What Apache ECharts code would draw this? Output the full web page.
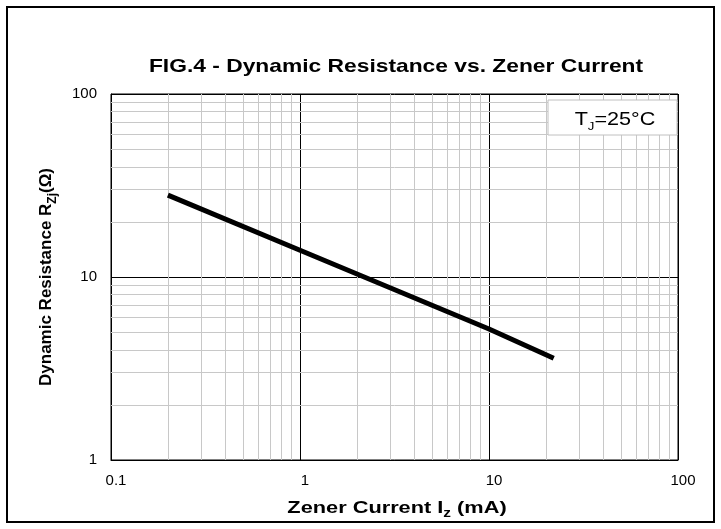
<!DOCTYPE html>
<html>
<head>
<meta charset="utf-8">
<script src="https://cdn.jsdelivr.net/npm/echarts@6/dist/echarts.min.js"></script>
<style>
  html, body { margin: 0; padding: 0; background: #fff; }
  #chart { width: 721px; height: 529px; }
</style>
</head>
<body>
<div id="chart"></div>
<script>
var current = [0.2, 1, 10, 22];          // Iz (mA)
var resistance = [28, 14, 5.2, 3.6];     // Rzj (ohm)
var xMinor = [0.2, 0.3, 0.4, 0.5, 0.6, 0.7, 0.8, 0.9, 2, 3, 4, 5, 6, 7, 8, 9, 20, 30, 40, 50, 60, 70, 80, 90];
var yMinor = [2, 3, 4, 5, 6, 7, 8, 9, 20, 30, 40, 50, 60, 70, 80, 90];

var myChart = echarts.init(document.getElementById('chart'));
var font = 'Liberation Sans, Arial, sans-serif';

// minor grid (2..9 of each decade) as mark lines
var gridLines = [];
xMinor.forEach(function (v) { gridLines.push({ xAxis: v }); });
yMinor.forEach(function (v) { gridLines.push({ yAxis: v }); });

var option = {
  backgroundColor: '#fff',
  animation: false,
  grid: {
    left: 111, right: 43, top: 94, bottom: 69,
    show: true, borderColor: '#000', borderWidth: 1, backgroundColor: '#fff'
  },
  xAxis: {
    type: 'log', logBase: 10, min: 0.1, max: 100,
    axisLine: { lineStyle: { color: '#000' } },
    axisTick: { show: false },
    axisLabel: {
      fontFamily: font, fontSize: 15, color: '#000', margin: 13, padding: [0, 0, 0, 10],
      formatter: function (v) { return String(+v.toPrecision(3)); }
    },
    splitLine: { show: true, lineStyle: { color: '#000', width: 1 } }
  },
  yAxis: {
    type: 'log', logBase: 10, min: 1, max: 100,
    name: 'Dynamic Resistance R{sub|Zj}(Ω)',
    nameLocation: 'middle', nameGap: 52,
    nameTextStyle: {
      fontFamily: font, fontSize: 17, fontWeight: 'bold', color: '#000',
      rich: { sub: { fontFamily: font, fontSize: 12, fontWeight: 'bold', color: '#000', verticalAlign: 'bottom', lineHeight: 26 } }
    },
    axisLine: { lineStyle: { color: '#000' } },
    axisTick: { show: false },
    axisLabel: {
      fontFamily: font, fontSize: 15, color: '#000', margin: 14,
      formatter: function (v) { return String(+v.toPrecision(3)); }
    },
    splitLine: { show: true, lineStyle: { color: '#000', width: 1 } }
  },
  series: [
    {
      type: 'line',
      data: [],
      z: 1,
      silent: true,
      markLine: {
        silent: true,
        symbol: ['none', 'none'],
        label: { show: false },
        lineStyle: { color: '#c8c8c8', width: 1, type: 'solid' },
        data: gridLines,
        animation: false
      }
    },
    {
      name: 'Rzj',
      type: 'line',
      z: 5,
      data: current.map(function (c, i) { return [c, resistance[i]]; }),
      showSymbol: false,
      lineStyle: { color: '#000', width: 5 }
    }
  ],
  graphic: [
    // title (reference text is a bit stretched horizontally)
    {
      type: 'text', z: 101, x: 396, y: 67, scaleX: 1.2,
      style: {
        text: 'FIG.4 - Dynamic Resistance vs. Zener Current',
        fontFamily: font, fontSize: 19, fontWeight: 'bold', fill: '#000',
        align: 'center', verticalAlign: 'middle'
      }
    },
    // x axis name
    {
      type: 'text', z: 101, x: 397, y: 508, scaleX: 1.28,
      style: {
        text: '{a|Zener Current I}{b|z}{a| (mA)}',
        align: 'center', verticalAlign: 'middle',
        rich: {
          a: { fontFamily: font, fontSize: 17, fontWeight: 'bold', fill: '#000' },
          b: { fontFamily: font, fontSize: 12, fontWeight: 'bold', fill: '#000', verticalAlign: 'bottom', lineHeight: 23 }
        }
      }
    },
    // TJ box
    {
      type: 'rect', z: 100,
      shape: { x: 548, y: 100, width: 129, height: 35 },
      style: { fill: '#fff', stroke: '#c0c0c0', lineWidth: 1 }
    },
    {
      type: 'text', z: 101, x: 615, y: 120, scaleX: 1.2,
      style: {
        text: '{a|T}{b|J}{a|=25°C}',
        align: 'center', verticalAlign: 'middle',
        rich: {
          a: { fontFamily: font, fontSize: 18, fill: '#000' },
          b: { fontFamily: font, fontSize: 11, fill: '#000', verticalAlign: 'bottom', lineHeight: 24 }
        }
      }
    },
    // outer frame
    {
      type: 'rect', z: 100,
      shape: { x: 7, y: 7, width: 707, height: 515 },
      style: { fill: null, stroke: '#000', lineWidth: 2 }
    }
  ]
};

myChart.setOption(option);
</script>
</body>
</html>
